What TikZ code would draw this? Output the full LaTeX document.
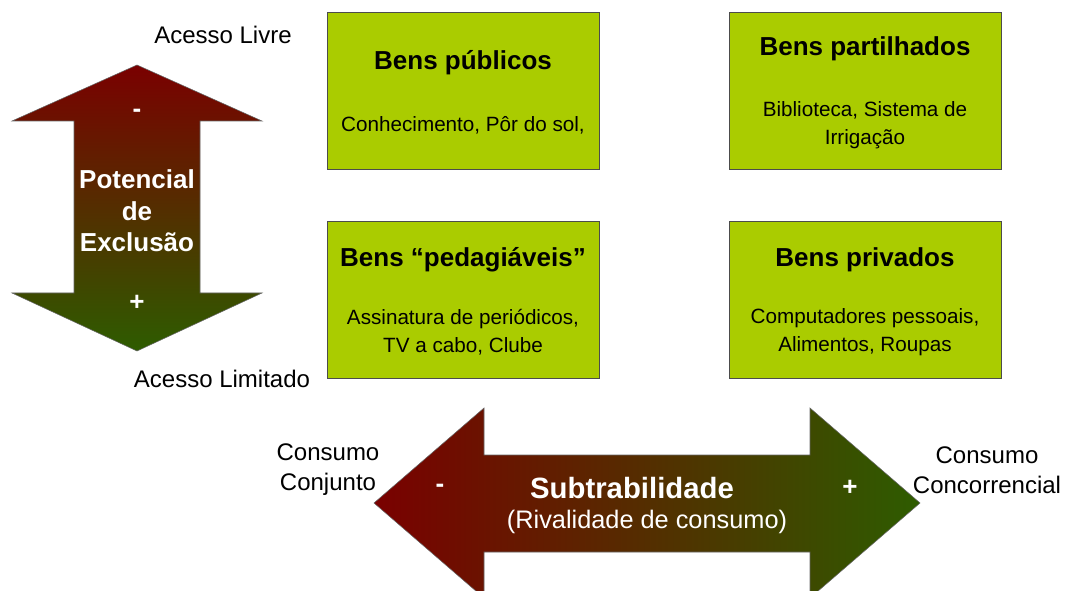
\documentclass[tikz,border=0pt]{standalone}
\usepackage{fontspec}
\setmainfont{Liberation Sans}
\usetikzlibrary{positioning}
\definecolor{verdebens}{RGB}{170,204,0}
\definecolor{vermelho}{RGB}{122,0,0}
\definecolor{verde}{RGB}{46,92,0}

\begin{document}
\begin{tikzpicture}[x=0.75pt,y=-0.75pt,
  bens/.style={draw=black!70,fill=verdebens,minimum width=204pt,minimum height=118pt,inner sep=0pt},
  titulo/.style={font=\fontsize{19.5}{23}\selectfont\bfseries},
  corpo/.style={font=\fontsize{15.5}{21}\selectfont,align=center},
  lbl/.style={font=\fontsize{18}{22.5}\selectfont,align=center},
  seta/.style={text=white,font=\fontsize{19.5}{23.5}\selectfont\bfseries,align=center}]
\useasboundingbox (0,0) rectangle (1066,591);
% quadro dos bens
\node[bens] (publicos) at (463,91) {};
\node[bens] (partilhados) at (865,91) {};
\node[bens] (pedagiaveis) at (463,300) {};
\node[bens] (privados) at (865,300) {};
\node[titulo] (tpublicos) at (463,63) {Bens públicos};
\node[corpo] (cpublicos) at (463,125) {Conhecimento, Pôr do sol,};
\node[titulo] (tpartilhados) at (865,49) {Bens partilhados};
\node[corpo] (cpartilhados) at (865,125) {Biblioteca, Sistema de\\Irrigação};
\node[titulo] (tpedagiaveis) at (463,260) {Bens “pedagiáveis”};
\node[corpo] (cpedagiaveis) at (463,332) {Assinatura de periódicos,\\TV a cabo, Clube};
\node[titulo] (tprivados) at (865,260) {Bens privados};
\node[corpo] (cprivados) at (865,332) {Computadores pessoais,\\Alimentos, Roupas};
% seta vertical
\shade[top color=vermelho,bottom color=verde,draw=black!60]
  (137,65) -- (262,121) -- (200,121) -- (200,293) -- (262,293) -- (137,351)
  -- (12,293) -- (74,293) -- (74,121) -- (12,121) -- cycle;
\node[seta] (menosv) at (137,113) {-};
\node[seta] (exclusao) at (137,211) {Potencial\\de\\Exclusão};
\node[seta] (maisv) at (137,303) {+};
\node[lbl] (livre) at (223,35) {Acesso Livre};
\node[lbl] (limitado) at (222,379) {Acesso Limitado};
% seta horizontal
\shade[left color=vermelho,right color=verde,draw=black!60]
  (374,503) -- (484,408) -- (484,455) -- (810,455) -- (810,408) -- (920,503)
  -- (810,598) -- (810,552) -- (484,552) -- (484,598) -- cycle;
\node[seta] (menosh) at (440,488) {-};
\node[seta,font=\fontsize{22}{26}\selectfont\bfseries] (subtrab) at (632,488) {Subtrabilidade};
\node[seta,font=\fontsize{19}{23}\selectfont] (rival) at (647,522) {(Rivalidade de consumo)};
\node[seta] (maish) at (850,488) {+};
\node[lbl] (conjunto) at (328,470) {Consumo\\Conjunto};
\node[lbl] (concorrencial) at (987,470) {Consumo\\Concorrencial};
\end{tikzpicture}
\end{document}
